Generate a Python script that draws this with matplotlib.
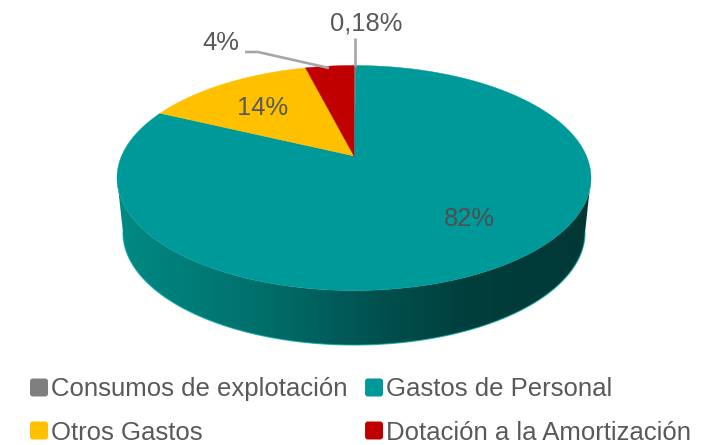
import numpy as np
import matplotlib
matplotlib.use("Agg")
import matplotlib.pyplot as plt
from matplotlib.patches import Polygon, Patch, FancyBboxPatch
from matplotlib.legend_handler import HandlerPatch
from matplotlib.colors import LinearSegmentedColormap

plt.rcParams['font.family'] = ['Liberation Sans', 'DejaVu Sans']

categories = ['Consumos de explotación', 'Gastos de Personal', 'Otros Gastos', 'Dotación a la Amortización']
values = [0.18, 82, 14, 4]
value_labels = ['0,18%', '82%', '14%', '4%']
colors = ['#7F7F7F', '#009999', '#FFC000', '#C00000']
TEXT = '#595959'
LEADER = '#A6A6A6'

W, H = 711, 445
CX, CY, RX, RY = 354, 178, 237, 112.5   # top ellipse
BX, BY, BRX, BRY = 354, 232.5, 231, 112.5  # lower rim ellipse
TILT = 0.196  # shifts the apex towards the far edge (perspective)

fig = plt.figure(figsize=(W / 100, H / 100), dpi=100)
ax = fig.add_axes([0, 0, 1, 1])
ax.set_xlim(0, W)
ax.set_ylim(H, 0)
ax.axis('off')


def project(theta):
    """Perspective view of a unit-circle point; returns pixel-space x, y."""
    x, y = np.cos(theta), np.sin(theta)
    s = np.sqrt(1 - TILT ** 2)
    d = 1 + TILT * y
    return CX + RX * x * s / d, CY - RY * (y + TILT) / d


# side band with horizontal shading
t = np.linspace(np.pi, 2 * np.pi, 200)
top_edge = np.column_stack([CX + RX * np.cos(t), CY - RY * np.sin(t)])
low_edge = np.column_stack([BX + BRX * np.cos(t), BY - BRY * np.sin(t)])
upper = np.array([[CX - RX, CY], [BX - BRX, BY]])
band = np.vstack([upper, low_edge, [[CX + RX, CY]], top_edge[::-1]])
cmap = LinearSegmentedColormap.from_list(
    'side', [(0, '#008A84'), (0.30, '#006F6B'), (0.55, '#00514F'),
             (0.75, '#003E3C'), (1, '#003836')])
img = ax.imshow(np.linspace(0, 1, 256)[None, :], extent=(117, 591, 350, 170),
                cmap=cmap, aspect='auto', zorder=1, interpolation='bilinear')
ax.set_xlim(0, W)
ax.set_ylim(H, 0)
band_patch = Polygon(band, closed=True, transform=ax.transData, fc='none', ec='none')
ax.add_patch(band_patch)
img.set_clip_path(band_patch)
ax.plot(low_edge[:, 0], low_edge[:, 1], color='#00A5A0', lw=0.9, alpha=0.7, zorder=2)

# top face, clockwise from 12 o'clock
total = sum(values)
start = np.pi / 2
for v, col in zip(values, colors):
    end = start - 2 * np.pi * v / total
    th = np.linspace(start, end, max(3, int(v * 6)))
    px, py = project(th)
    ax.add_patch(Polygon(np.column_stack([np.r_[CX, px], np.r_[CY - RY * TILT, py]]),
                         closed=True, fc=col, ec=col, lw=0.3, zorder=3))
    start = end

# leader lines
ax.plot([355, 355], [38, 66], color=LEADER, lw=1.9, zorder=4, solid_capstyle='butt')
ax.plot([245, 258, 329], [52, 52, 68], color=LEADER, lw=1.9, zorder=4, solid_capstyle='butt')

# data labels
label_pos = [(366, 24), (469, 219), (263, 108), (221, 43)]
for lab, (x, y) in zip(value_labels, label_pos):
    ax.text(x, y, lab, ha='center', va='center', fontsize=18.4,
            color='#4F4F4F' if lab == '82%' else TEXT, zorder=5)


def round_handle(legend, orig_handle, xdescent, ydescent, width, height, fontsize):
    r = 2
    return FancyBboxPatch((-xdescent + r, -ydescent + r), width - 2 * r, height - 2 * r,
                          boxstyle=f'round,pad={r},rounding_size={r}')


handles = [Patch(fc=c, ec='none') for c in colors]
order = [0, 2, 1, 3]
leg = ax.legend([handles[i] for i in order], [categories[i] for i in order], ncol=2,
                loc='lower left', bbox_to_anchor=(30 / W, 0.5 / H), frameon=False, fontsize=18.5,
                labelcolor=TEXT, borderpad=0, borderaxespad=0,
                handlelength=0.7, handleheight=0.7, handletextpad=0.1,
                columnspacing=0.7, labelspacing=0.74,
                handler_map={Patch: HandlerPatch(patch_func=round_handle)})

fig.savefig('out.png', dpi=100)
